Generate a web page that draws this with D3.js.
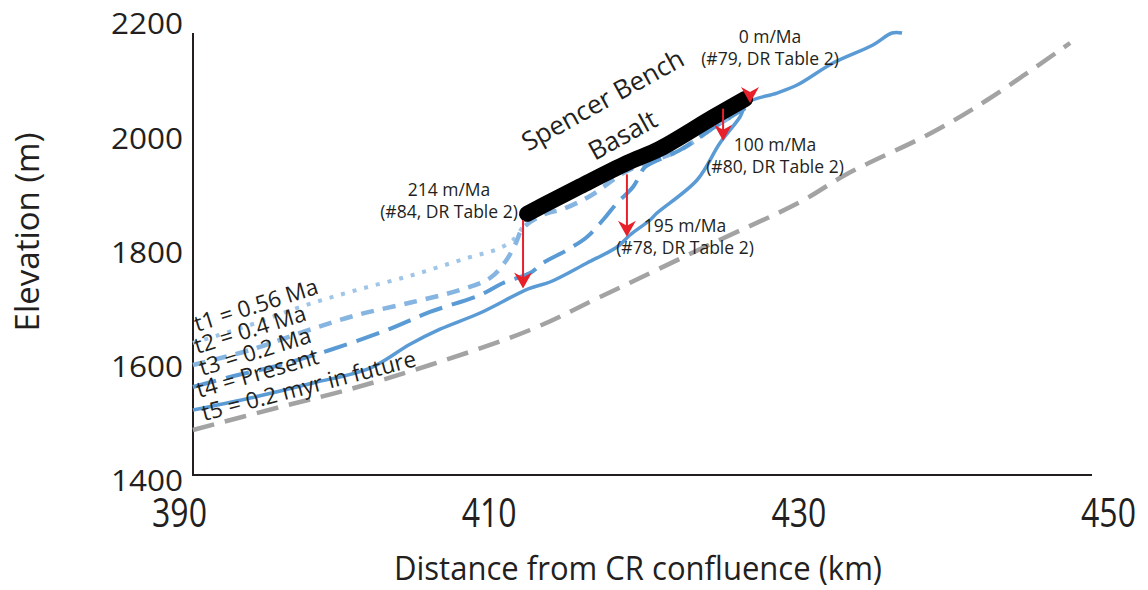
<!DOCTYPE html>
<html>
<head>
<meta charset="utf-8">
<script src="https://cdn.jsdelivr.net/npm/d3@7"></script>
<style>
  body { margin: 0; background: #fff; }
  svg { display: block; }
  text { font-family: "Open Sans", "Noto Sans", sans-serif; fill: #231f20; }
</style>
</head>
<body>
<svg id="chart" width="1148" height="590"></svg>
<script>
// ---- data -------------------------------------------------------------
const xTicks = [390, 410, 430, 450];
const yTicks = [1400, 1600, 1800, 2000, 2200];

// river long profiles: distance (km) / elevation (m)
const t1Km   = [390.90, 394.59, 397.81, 401.24, 405.11, 408.60, 410.73, 411.70, 412.22];
const t1Elev = [1639.8, 1671.3, 1702.8, 1730.8, 1758.9, 1788.6, 1806.1, 1823.6, 1844.6];

const t2Km   = [390.90, 394.59, 398.01, 401.50, 405.11, 408.15, 410.09, 411.06, 411.70, 412.22, 413.64, 414.80, 416.55, 418.93, 422.36, 424.49, 426.56];
const t2Elev = [1601.3, 1627.6, 1659.1, 1688.8, 1711.6, 1732.6, 1753.6, 1781.6, 1811.4, 1841.1, 1865.6, 1874.4, 1897.1, 1940.9, 1977.7, 2016.2, 2051.2];

const t3Km   = [390.90, 393.29, 396.52, 399.75, 403.43, 406.21, 409.44, 410.93, 412.67, 413.51, 415.06, 416.35, 417.38, 418.29, 419.32, 419.77, 420.10, 422.36, 424.49, 426.56];
const t3Elev = [1562.8, 1580.3, 1601.3, 1627.6, 1662.6, 1694.1, 1723.8, 1744.9, 1762.4, 1779.9, 1802.6, 1825.4, 1855.1, 1884.9, 1912.9, 1933.9, 1947.9, 1977.7, 2016.2, 2051.2];

const t4Km   = [390.90, 394.59, 398.65, 402.34, 404.92, 406.86, 409.44, 412.60, 413.96, 416.35, 418.29, 419.13, 420.42, 420.87, 423.46, 424.94, 426.23, 426.69, 428.62, 429.92, 432.24, 434.82, 436.05, 436.70];
const t4Elev = [1522.5, 1543.5, 1569.8, 1595.8, 1637.6, 1664.0, 1692.3, 1735.0, 1746.6, 1779.9, 1807.9, 1828.9, 1855.1, 1867.4, 1925.2, 1989.9, 2035.4, 2059.9, 2077.4, 2091.4, 2130.0, 2161.5, 2182.5, 2182.5];

const t5Km   = [390.90, 396.52, 400.85, 406.21, 412.67, 417.19, 424.49, 430.11, 433.14, 438.70, 442.19, 447.55];
const t5Elev = [1487.5, 1527.8, 1557.5, 1601.3, 1662.6, 1720.3, 1814.9, 1886.6, 1935.6, 2009.2, 2065.2, 2165.0];

const profileLabels = ["t1 = 0.56 Ma", "t2 = 0.4 Ma", "t3 = 0.2 Ma", "t4 = Present", "t5 = 0.2 myr in future"];

// Spencer Bench basalt flow (centre line of the flow)
const basaltKm   = [412.48, 413.64, 415.90, 418.93, 421.07, 424.49, 426.56];
const basaltElev = [1866.0, 1882.5, 1914.0, 1955.0, 1980.0, 2035.0, 2067.0];

// incision since basalt emplacement
const basaltAgeMa = 0.56;
const arrowKm     = [412.22, 418.93, 425.14, 426.88];
const arrowTop    = [1855, 1935, 2050, 2060];
const arrowRate   = [214, 195, 100, 0];   // m/Ma
const arrowSample = [84, 78, 80, 79];

// ---- layout -----------------------------------------------------------
const svg = d3.select("#chart");

const x = d3.scaleLinear().domain([390, 450]).range([179, 1108]);
const y = d3.scaleLinear().domain([1400, 2200]).range([480, 23]);

const axisX0 = 193, axisX1 = 1092, axisYTop = 33, axisYBot = 475;

// ---- axes -------------------------------------------------------------
const gx = svg.append("g").attr("transform", `translate(0,${axisYBot})`)
  .call(d3.axisBottom(x).tickValues(xTicks).tickSize(0).tickFormat(d3.format("d")));
gx.select(".domain").remove();
gx.selectAll("text")
  .attr("y", 24).attr("dy", "0.71em")
  .style("font-size", "40px")
  .attr("transform", "scale(0.8,1)")
  .attr("fill", "#231f20");

const gy = svg.append("g").attr("transform", `translate(${axisX0},0)`)
  .call(d3.axisLeft(y).tickValues(yTicks).tickSize(0).tickFormat(d3.format("d")));
gy.select(".domain").remove();
gy.selectAll("text")
  .attr("x", -9.5).attr("dy", "0.36em")
  .style("font-size", "30px")
  .attr("transform", "scale(1.05,1)")
  .attr("fill", "#231f20");

svg.append("path")
  .attr("d", `M${axisX0},${axisYTop}V${axisYBot}H${axisX1}`)
  .attr("fill", "none").attr("stroke", "#231f20").attr("stroke-width", 2);

svg.append("text")
  .attr("transform", "translate(39,232) rotate(-90)")
  .attr("text-anchor", "middle")
  .style("font-size", "33px")
  .text("Elevation (m)");

svg.append("text")
  .attr("x", 394).attr("y", 580)
  .attr("textLength", 488).attr("lengthAdjust", "spacingAndGlyphs")
  .style("font-size", "32px")
  .text("Distance from CR confluence (km)");

// ---- profiles ---------------------------------------------------------
const line = d3.line()
  .x(d => x(d[0])).y(d => y(d[1]))
  .curve(d3.curveCatmullRom.alpha(0.5));
const zip = (a, b) => a.map((v, i) => [v, b[i]]);

const profiles = [
  { pts: zip(t5Km, t5Elev), color: "#a3a3a3", width: 4.5, dash: "22 11" },
  { pts: zip(t1Km, t1Elev), color: "#9fc5e8", width: 4,   dash: "4 8" },
  { pts: zip(t2Km, t2Elev), color: "#86b5e1", width: 4.5, dash: "13 9" },
  { pts: zip(t3Km, t3Elev), color: "#5b9bd5", width: 4,   dash: "24 10" },
  { pts: zip(t4Km, t4Elev), color: "#5b9bd5", width: 3.5, dash: null }
];
svg.append("g").selectAll("path").data(profiles).join("path")
  .attr("d", d => line(d.pts))
  .attr("fill", "none")
  .attr("stroke", d => d.color)
  .attr("stroke-width", d => d.width)
  .attr("stroke-dasharray", d => d.dash)
  .attr("stroke-linejoin", "round");

// ---- basalt -----------------------------------------------------------
svg.append("path")
  .attr("d", line(zip(basaltKm, basaltElev)))
  .attr("fill", "none").attr("stroke", "#000")
  .attr("stroke-width", 16).attr("stroke-linecap", "round").attr("stroke-linejoin", "round");

// ---- incision arrows --------------------------------------------------
const arrows = arrowKm.map((k, i) => ({
  km: k, top: arrowTop[i], bottom: arrowTop[i] - arrowRate[i] * basaltAgeMa,
  rate: arrowRate[i], sample: arrowSample[i]
}));
const red = "#e8202a";
const ga = svg.append("g");
ga.selectAll("line").data(arrows.filter(d => d.rate > 0)).join("line")
  .attr("x1", d => x(d.km)).attr("x2", d => x(d.km))
  .attr("y1", d => y(d.top)).attr("y2", d => y(d.bottom) - 10)
  .attr("stroke", red).attr("stroke-width", 2);
ga.selectAll("path").data(arrows).join("path")
  .attr("transform", d => `translate(${x(d.km)},${y(d.bottom)})`)
  .attr("d", "M0,0L-9,-16L0,-11L9,-16Z")
  .attr("fill", red);

// rate labels
const rateLabelPos = [[449, 196], [685, 232], [775, 151], [770, 43]];
const gl = svg.append("g").attr("text-anchor", "middle").style("font-size", "17.5px");
arrows.forEach((d, i) => {
  const [lx, ly] = rateLabelPos[i];
  gl.append("text").attr("x", lx).attr("y", ly).text(`${d.rate} m/Ma`);
  gl.append("text").attr("x", lx).attr("y", ly + 22).text(`(#${d.sample}, DR Table 2)`);
});

// ---- labels -----------------------------------------------------------
svg.append("text")
  .attr("transform", "translate(607,108) rotate(-29)")
  .attr("text-anchor", "middle").style("font-size", "26px")
  .text("Spencer Bench");
svg.append("text")
  .attr("transform", "translate(627,143) rotate(-29)")
  .attr("text-anchor", "middle").style("font-size", "26px")
  .text("Basalt");

const profileLabelPos = [[197, 332, -17.5], [197, 354, -17], [202, 376, -17], [199, 398, -16], [204, 421, -14.5]];
svg.append("g").style("font-size", "22.5px")
  .selectAll("text").data(profileLabels).join("text")
  .attr("transform", (d, i) => `translate(${profileLabelPos[i][0]},${profileLabelPos[i][1]}) rotate(${profileLabelPos[i][2]})`)
  .text(d => d);
</script>
</body>
</html>
